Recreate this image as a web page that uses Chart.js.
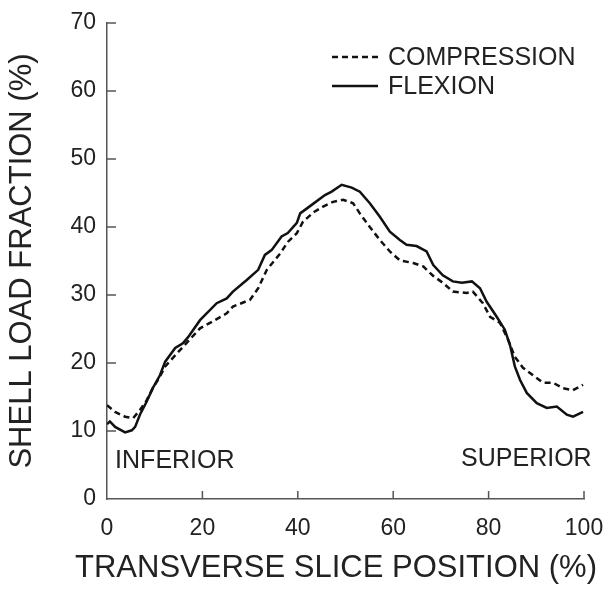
<!DOCTYPE html>
<html>
<head>
<meta charset="utf-8">
<script src="https://cdn.jsdelivr.net/npm/chart.js@4.4.1/dist/chart.umd.min.js"></script>
<style>
  html, body { margin: 0; padding: 0; background: #fff; }
  #wrap { width: 612px; height: 591px; }
</style>
</head>
<body>
<div id="wrap"><canvas id="shellChart" width="612" height="591"></canvas></div>
<script>
// values (transverse slice position %, shell load fraction %)
const flexionX = [0, 0.6, 1.7, 3.8, 5.2, 5.9, 6.9, 8.3, 9.6, 11.1, 12.2, 14.3, 15.9, 17.0, 19.5,
  23.0, 25.1, 26.4, 29.3, 31.7, 33.1, 34.5, 36.6, 37.9, 39.8, 40.5, 43.2, 45.7, 47.1, 49.2,
  51.3, 53.0, 55.1, 57.2, 59.3, 61.4, 62.8, 64.9, 67.0, 68.4, 70.4, 72.5, 74.4, 76.5, 78.2,
  79.6, 81.7, 83.4, 84.5, 85.5, 86.6, 88.0, 90.1, 92.2, 94.3, 96.4, 97.7, 99.8];
const flexionY = [11.0, 11.4, 10.6, 9.8, 10.1, 10.6, 12.4, 14.3, 16.3, 18.2, 20.2, 22.2, 22.9, 23.8, 26.3,
  28.8, 29.5, 30.5, 32.2, 33.7, 35.9, 36.6, 38.6, 39.1, 40.6, 42.0, 43.4, 44.7, 45.2, 46.2,
  45.8, 45.2, 43.5, 41.5, 39.3, 38.1, 37.4, 37.2, 36.4, 34.4, 32.9, 32.0, 31.8, 32.0, 31.0,
  29.0, 26.8, 24.9, 22.6, 19.5, 17.5, 15.6, 14.1, 13.4, 13.6, 12.4, 12.1, 12.8];

const compressionX = [0, 1.7, 3.8, 5.5, 6.9, 8.3, 9.6, 11.1, 12.2, 15.3, 19.5, 21.6, 25.1, 26.4,
  30.0, 31.7, 33.5, 36.3, 37.9, 39.8, 41.1, 43.4, 45.3, 47.4, 49.5, 51.6, 53.0, 55.1, 57.2,
  59.3, 61.4, 64.2, 66.3, 68.4, 70.4, 72.5, 75.4, 76.7, 78.8, 80.3, 82.4, 84.1, 85.5, 87.2,
  89.3, 91.4, 93.5, 95.6, 97.7, 99.8];
const compressionY = [13.8, 12.8, 12.1, 11.9, 13.1, 14.5, 16.3, 18.0, 19.5, 21.9, 25.1, 25.9, 27.3, 28.3,
  29.3, 31.0, 33.7, 36.1, 37.8, 39.1, 40.8, 42.2, 43.0, 43.7, 44.0, 43.5, 42.0, 40.0, 38.1,
  36.4, 35.1, 34.7, 34.2, 32.8, 31.8, 30.5, 30.3, 30.5, 28.8, 26.8, 25.9, 23.4, 20.9, 19.3,
  18.2, 17.1, 17.1, 16.3, 16.0, 16.8];

const seriesNames = ['COMPRESSION', 'FLEXION'];
const xTitle = 'TRANSVERSE SLICE POSITION (%)';
const yTitle = 'SHELL LOAD FRACTION (%)';

const FONT = '"Liberation Sans", Arial, sans-serif';
const TEXT = '#222';
const AXIS = '#555';

function toPoints(xs, ys) {
  return xs.map((x, i) => ({ x: x, y: ys[i] }));
}

// inward tick marks, legend, x title and the two region labels
const extras = {
  id: 'extras',
  afterDraw(chart) {
    const ctx = chart.ctx;
    const xs = chart.scales.x, ys = chart.scales.y;
    const area = chart.chartArea;
    ctx.save();
    ctx.strokeStyle = AXIS;
    ctx.lineWidth = 1.5;
    ctx.beginPath();
    ys.ticks.forEach(t => {
      if (t.value === 0) return;
      const p = ys.getPixelForValue(t.value);
      ctx.moveTo(area.left, p);
      ctx.lineTo(area.left + 9, p);
    });
    xs.ticks.forEach(t => {
      if (t.value === 0) return;
      const p = xs.getPixelForValue(t.value);
      ctx.moveTo(p, area.bottom);
      ctx.lineTo(p, area.bottom - 8);
    });
    ctx.stroke();

    // legend
    ctx.font = '25px ' + FONT;
    ctx.fillStyle = TEXT;
    ctx.textBaseline = 'middle';
    ctx.textAlign = 'left';
    const rows = [57, 86];
    chart.data.datasets.forEach((ds, i) => {
      ctx.strokeStyle = ds.borderColor;
      ctx.lineWidth = ds.borderWidth;
      ctx.setLineDash(ds.borderDash || []);
      ctx.beginPath();
      ctx.moveTo(332, rows[i]);
      ctx.lineTo(378, rows[i]);
      ctx.stroke();
      ctx.setLineDash([]);
      ctx.fillText(ds.label, 388, rows[i] + 1);
    });

    // region labels
    ctx.textBaseline = 'alphabetic';
    ctx.fillText('INFERIOR', xs.getPixelForValue(1.7), ys.getPixelForValue(4.6));
    ctx.textAlign = 'right';
    ctx.fillText('SUPERIOR', xs.getPixelForValue(101.6), ys.getPixelForValue(4.8));

    // x axis title (drawn here so it is not squeezed to the plot width)
    ctx.font = '31px ' + FONT;
    ctx.textAlign = 'center';
    ctx.fillText(xTitle, 336, 577);
    ctx.restore();
  }
};

new Chart(document.getElementById('shellChart'), {
  type: 'line',
  data: {
    datasets: [{
      label: seriesNames[0],
      data: toPoints(compressionX, compressionY),
      borderColor: '#111',
      borderWidth: 2.5,
      borderDash: [6, 4],
      pointRadius: 0,
      tension: 0,
      fill: false
    }, {
      label: seriesNames[1],
      data: toPoints(flexionX, flexionY),
      borderColor: '#111',
      borderWidth: 2.5,
      pointRadius: 0,
      tension: 0,
      fill: false
    }]
  },
  options: {
    responsive: false,
    animation: false,
    layout: { padding: { left: 0, top: 23, right: 28, bottom: 0 } },
    plugins: {
      legend: { display: false },
      tooltip: { enabled: false }
    },
    scales: {
      x: {
        type: 'linear',
        min: 0,
        max: 100,
        afterFit(s) { s.height = 92; s.paddingLeft = 0; s.paddingRight = 0; },
        ticks: { stepSize: 20, padding: 16, color: TEXT, font: { family: FONT, size: 23 } },
        grid: { display: false, drawTicks: false },
        border: { display: true, color: AXIS, width: 1.5 }
      },
      y: {
        min: 0,
        max: 70,
        afterFit(s) { s.width = 107; s.paddingTop = 0; s.paddingBottom = 0; },
        ticks: { stepSize: 10, padding: 11, color: TEXT, font: { family: FONT, size: 23 } },
        grid: { display: false, drawTicks: false },
        border: { display: true, color: AXIS, width: 1.5 },
        title: {
          display: true,
          text: yTitle,
          color: TEXT,
          font: { family: FONT, size: 31 },
          padding: { top: 4, bottom: 0 }
        }
      }
    }
  },
  plugins: [extras]
});
</script>
</body>
</html>
